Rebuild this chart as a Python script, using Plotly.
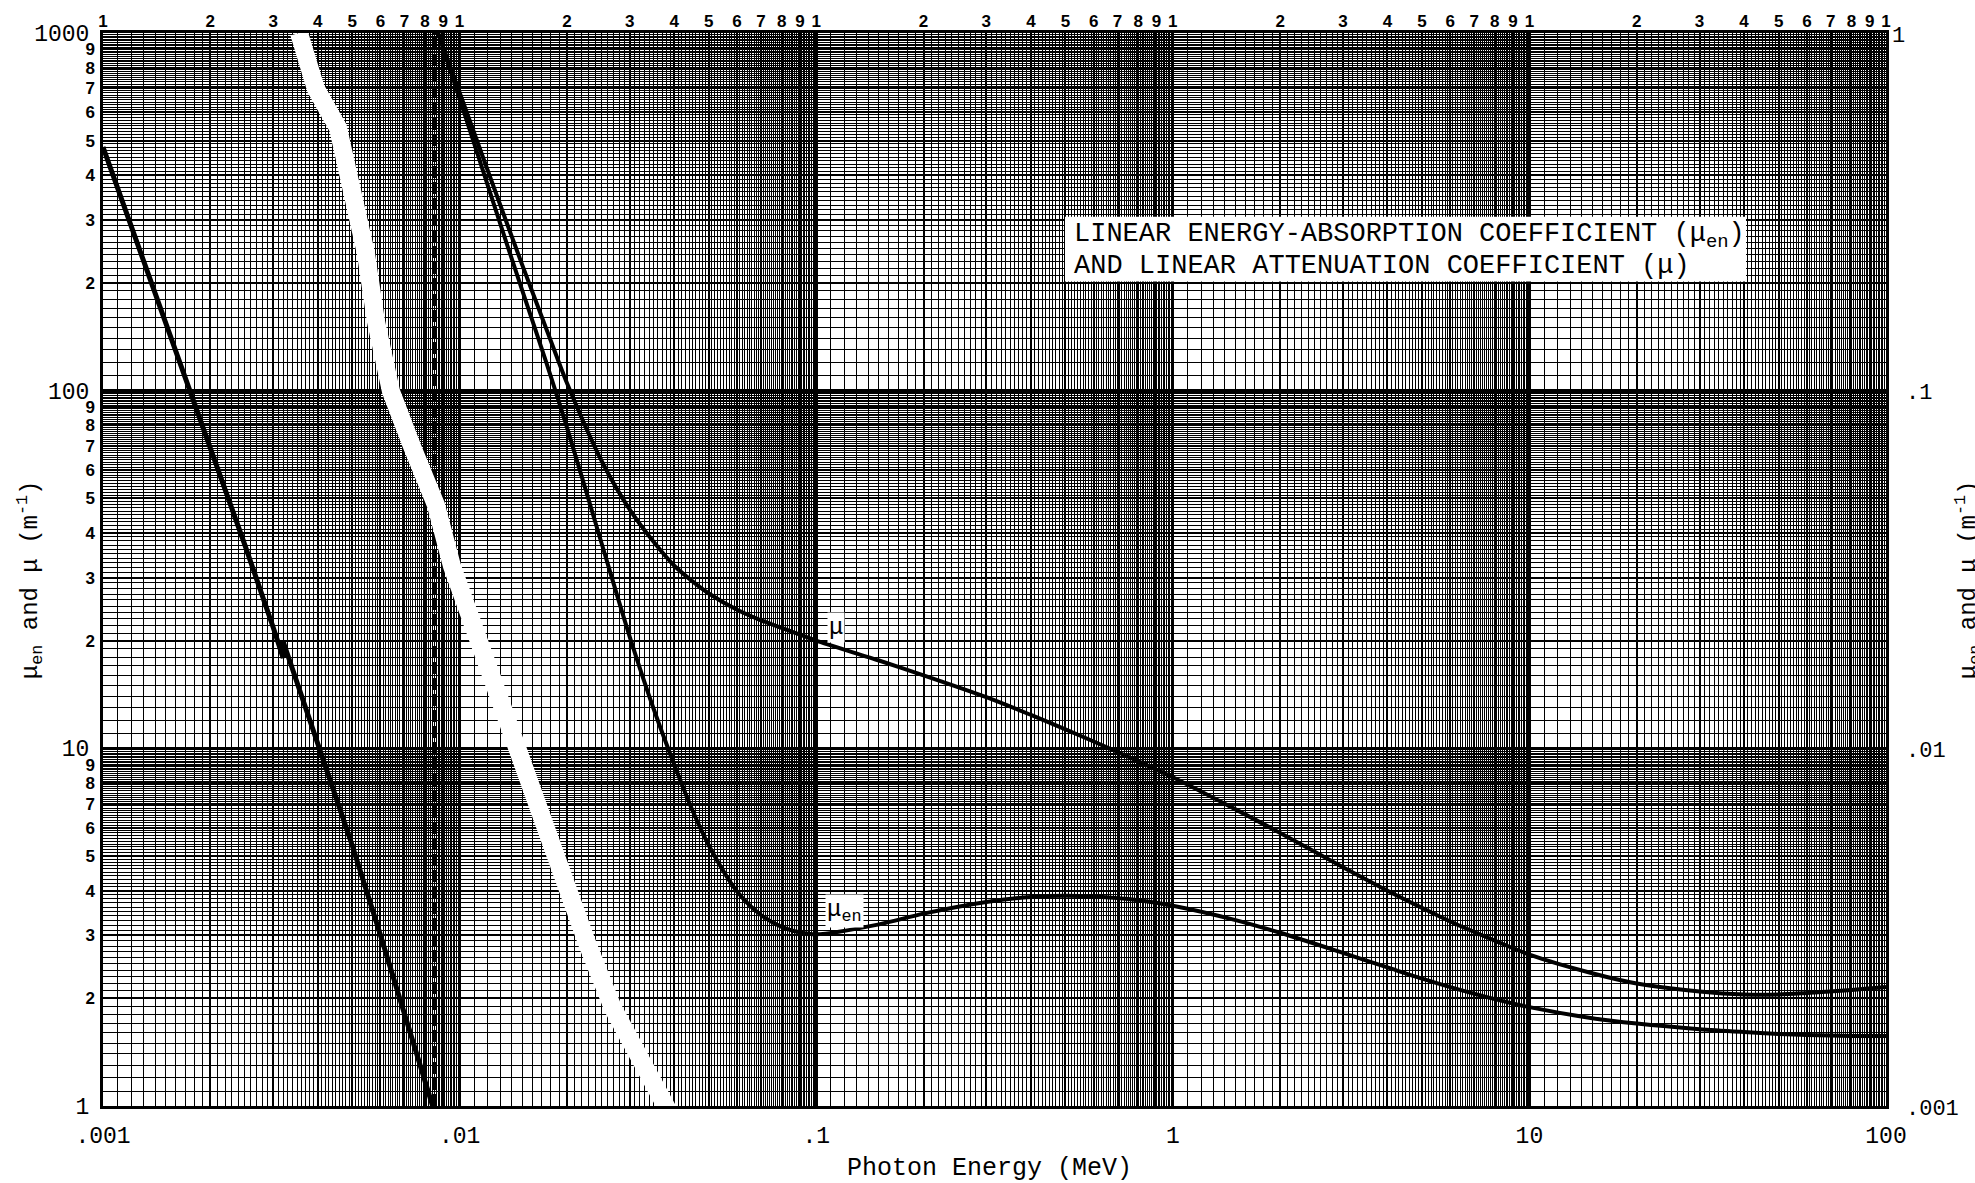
import numpy as np
import plotly.graph_objects as go

# ---- data (energies in MeV, coefficients in left-axis units) ----
# low-energy branch, read on the left scale (includes the small step near 3.2 keV)
LOW_E = [0.001, 0.0015, 0.002, 0.0025, 0.003, 0.0032, 0.0032, 0.004, 0.005, 0.006, 0.007, 0.008, 0.0084]
LOW_MU = [480, 155, 69, 37, 21.8, 17.9, 19.9, 10.4, 5.35, 3.0, 1.83, 1.18, 1.0]

ENERGY = [0.0087, 0.01, 0.0125, 0.015, 0.0175, 0.02, 0.025, 0.03, 0.035, 0.04,
          0.045, 0.05, 0.06, 0.07, 0.08, 0.09, 0.1, 0.15, 0.2, 0.3,
          0.4, 0.5, 0.6, 0.8, 1, 1.5, 2, 3, 4, 5,
          6, 8, 10, 15, 20, 30, 40, 50, 60, 80,
          100]
MU = [1000, 682, 368, 224, 149, 105, 63.7, 46.5, 37.8, 32.4,
      29.3, 27.1, 24.4, 22.8, 21.7, 20.8, 20.0, 17.6, 16.0, 13.9,
      12.4, 11.3, 10.45, 9.2, 8.3, 6.75, 5.8, 4.65, 4.0, 3.58,
      3.28, 2.9, 2.65, 2.35, 2.2, 2.09, 2.05, 2.05, 2.07, 2.11,
      2.15]
MU_EN = [1000, 655, 330, 190, 120, 79, 37.5, 20.5, 12.9, 9.0,
         6.7, 5.35, 3.98, 3.42, 3.17, 3.06, 3.02, 3.22, 3.45, 3.72,
         3.84, 3.87, 3.85, 3.76, 3.63, 3.31, 3.05, 2.68, 2.44, 2.27,
         2.15, 1.99, 1.89, 1.76, 1.70, 1.64, 1.61, 1.59, 1.58, 1.57,
         1.57]

# energy where the low-energy branch hands over to the main scale
SCALE_BREAK_E = 0.0085

# seam where the two sheets of log paper are joined
SEAM_E = [3.545e-3, 3.95e-3, 4.560e-3, 4.993e-3, 5.463e-3, 5.828e-3, 6.421e-3, 7.353e-3,
          8.586e-3, 9.521e-3, 1.105e-2, 1.249e-2, 1.467e-2, 1.659e-2, 1.950e-2, 2.291e-2,
          2.693e-2, 3.205e-2, 3.841e-2]
SEAM_V = [1000, 700, 543, 360, 241.6, 156.1, 99.5, 69.9,
          47.9, 32.3, 21.3, 14.48, 9.48, 6.36, 4.22, 2.81,
          1.876, 1.343, 0.974]

# ---- axis labelling ----
X_DECADES = [0.001, 0.01, 0.1, 1, 10, 100]
X_DECADE_TEXT = [".001", ".01", ".1", "1", "10", "100"]
Y_DECADES = [1, 10, 100, 1000]
Y_DECADE_TEXT = ["1", "10", "100", "1000"]
RIGHT_TEXT = [".001", ".01", ".1", "1"]
CYCLE_DIGITS = ["1", "2", "3", "4", "5", "6", "7", "8", "9"]

MONO = "Liberation Mono"
SANS = "Liberation Sans"


def fine_lines(decades):
    """Light rulings at every tenth of each cycle."""
    vals = []
    for d in decades[:-1]:
        for m in range(11, 100):
            if m % 10:
                vals.append(d * m / 10.0)
    return vals


# top scale: 1..9 in every cycle, closing "1"
top_vals, top_text = [], []
for d in X_DECADES[:-1]:
    for k, s in zip(range(1, 10), CYCLE_DIGITS):
        top_vals.append(d * k)
        top_text.append(s)
top_vals.append(X_DECADES[-1])
top_text.append("1")

# left bold digits 2..9 in every cycle
left_vals, left_text = [], []
for d in Y_DECADES[:-1]:
    for k, s in zip(range(2, 10), CYCLE_DIGITS[1:]):
        left_vals.append(d * k)
        left_text.append(s)

fig = go.Figure()

fig.add_trace(go.Scatter(
    x=[SCALE_BREAK_E, SCALE_BREAK_E], y=[Y_DECADES[0], Y_DECADES[-1]],
    mode="lines", line=dict(color="black", width=3.5, dash="12px,4px"),
    hoverinfo="skip", showlegend=False))

fig.add_trace(go.Scatter(
    x=LOW_E, y=LOW_MU, mode="lines",
    line=dict(color="black", width=5), showlegend=False, name="μ (low energy)"))

fig.add_trace(go.Scatter(
    x=ENERGY, y=MU, mode="lines",
    line=dict(color="black", width=4, shape="spline", smoothing=0.8),
    showlegend=False, name="μ"))

fig.add_trace(go.Scatter(
    x=ENERGY, y=MU_EN, mode="lines",
    line=dict(color="black", width=4, shape="spline", smoothing=0.8),
    showlegend=False, name="μen"))

# seam drawn on the overlay axes so it sits over the ruling
fig.add_trace(go.Scatter(
    x=SEAM_E, y=SEAM_V, mode="lines", xaxis="x2", yaxis="y3",
    line=dict(color="white", width=18), hoverinfo="skip", showlegend=False))

fig.update_layout(
    width=1975, height=1183, autosize=False,
    margin=dict(l=103, r=89, t=31, b=77),
    paper_bgcolor="white", plot_bgcolor="white",
    showlegend=False,
    xaxis=dict(
        type="log", range=[-3, 2], tickmode="array",
        tickvals=X_DECADES, ticktext=X_DECADE_TEXT, ticks="",
        tickfont=dict(family=MONO, size=23, color="black"),
        showgrid=True, gridcolor="black", gridwidth=3,
        minor=dict(tickmode="array", tickvals=fine_lines(X_DECADES),
                   showgrid=True, gridcolor="black", gridwidth=1, ticks=""),
        showline=True, linecolor="black", linewidth=3, mirror=True,
        zeroline=False, layer="below traces", ticklabelstandoff=6),
    xaxis2=dict(
        type="log", range=[-3, 2], overlaying="x", anchor="y", side="top",
        tickmode="array", tickvals=top_vals, ticktext=top_text, ticks="",
        tickfont=dict(family=SANS, size=17, color="black", weight="bold"),
        showgrid=True, gridcolor="black", gridwidth=2,
        showline=False, zeroline=False, layer="below traces", ticklabelstandoff=2),
    yaxis=dict(
        type="log", range=[0, 3], tickmode="array",
        tickvals=Y_DECADES, ticktext=Y_DECADE_TEXT, ticks="",
        tickfont=dict(family=MONO, size=23, color="black"),
        showgrid=True, gridcolor="black", gridwidth=3,
        minor=dict(tickmode="array", tickvals=fine_lines(Y_DECADES),
                   showgrid=True, gridcolor="black", gridwidth=1, ticks=""),
        showline=True, linecolor="black", linewidth=3, mirror=True,
        zeroline=False, layer="below traces", ticklabelstandoff=6),
    yaxis3=dict(
        type="log", range=[0, 3], overlaying="y", anchor="x", side="left",
        tickmode="array", tickvals=left_vals, ticktext=left_text, ticks="",
        tickfont=dict(family=SANS, size=17, color="black", weight="bold"),
        showgrid=True, gridcolor="black", gridwidth=2,
        showline=False, zeroline=False, layer="below traces", ticklabelstandoff=7),
)

PW, PH = 1783.0, 1075.0  # plot area in pixels


def px_x(px):
    return (px - 103) / PW


def px_y(py):
    return (1106 - py) / PH


# white panel behind the caption
fig.add_shape(type="rect", xref="paper", yref="paper",
              x0=px_x(1065), x1=px_x(1746), y0=px_y(280), y1=px_y(215),
              fillcolor="white", line=dict(width=0), layer="above")

annotations = []

# right-hand scale
for v, t in zip(Y_DECADES, RIGHT_TEXT):
    annotations.append(dict(
        x=1.0 + (18 if t != "1" else 4) / PW, xref="paper", xanchor="left",
        y=np.log10(v), yref="y", yanchor="middle", yshift=-3,
        text=t, showarrow=False, font=dict(family=MONO, size=22, color="black")))

axis_title = "μ<sub>en</sub> and μ (m<sup>-1</sup>)"
annotations.append(dict(
    x=px_x(30), xref="paper", y=0.49, yref="paper", textangle=-90,
    xanchor="center", yanchor="middle", text=axis_title, showarrow=False,
    font=dict(family=MONO, size=24, color="black")))
annotations.append(dict(
    x=px_x(1968), xref="paper", y=0.49, yref="paper", textangle=-90,
    xanchor="center", yanchor="middle", text=axis_title, showarrow=False,
    font=dict(family=MONO, size=24, color="black")))

annotations.append(dict(
    x=px_x(989), xref="paper", y=px_y(1169), yref="paper",
    xanchor="center", yanchor="middle", text="Photon Energy (MeV)", showarrow=False,
    font=dict(family=MONO, size=25, color="black")))

caption_lines = ["LINEAR ENERGY-ABSORPTION COEFFICIENT (μ<sub>en</sub>)",
                 "AND LINEAR ATTENUATION COEFFICIENT (μ)"]
for line, cy in zip(caption_lines, [234, 264]):
    annotations.append(dict(
        x=px_x(1072), xref="paper", y=px_y(cy), yref="paper",
        xanchor="left", yanchor="middle", align="left", showarrow=False,
        text=line, font=dict(family=MONO, size=27, color="black")))

# curve labels
annotations.append(dict(
    x=np.log10(0.1136), y=np.log10(21.8), xref="x", yref="y",
    text="μ", showarrow=False, bgcolor="white", borderpad=1,
    font=dict(family=MONO, size=24, color="black")))
annotations.append(dict(
    x=np.log10(0.1204), y=np.log10(3.5), xref="x", yref="y",
    text="μ<sub>en</sub>", showarrow=False, bgcolor="white", borderpad=1,
    font=dict(family=MONO, size=24, color="black")))

fig.update_layout(annotations=annotations)

fig.write_html("out.html")
